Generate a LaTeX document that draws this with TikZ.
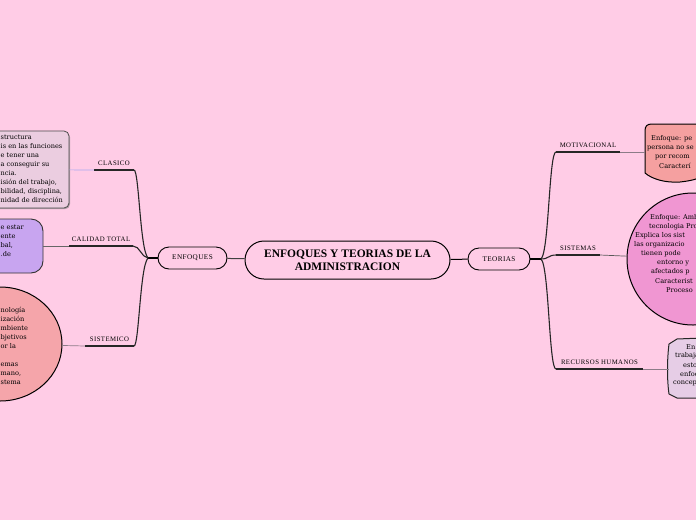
\documentclass[tikz,border=0pt]{standalone}
\usepackage{fontspec}
\setmainfont{Liberation Serif}
\newfontfamily\etiqfont[LetterSpace=6]{Liberation Serif}
\newfontfamily\cajafont{DejaVu Serif}
\usetikzlibrary{shapes.geometric,shadows}
\definecolor{fondo}{HTML}{FFCCE6}
\definecolor{cajaclas}{HTML}{EBCDE0}
\definecolor{cajacal}{HTML}{C8A5F0}
\definecolor{cajasist}{HTML}{F5A5AA}
\definecolor{cajamot}{HTML}{F5A0A0}
\definecolor{cajasis}{HTML}{F096D2}
\definecolor{cajarh}{HTML}{E6CDE6}
\definecolor{lila}{HTML}{A8A8F0}
\definecolor{gris}{HTML}{8C7C88}

\begin{document}
\begin{tikzpicture}[x=1pt,y=-1pt,
  rama/.style={line width=1.1pt, draw=black!85},
  raya/.style={line width=1.8pt, draw=black!85},
  enlace/.style={line width=0.7pt, draw=gris},
  etiq/.style={font=\etiqfont\fontsize{6.8}{7}\selectfont, anchor=south, inner sep=0pt, yshift=4pt},
  frag/.style={font=\cajafont\fontsize{6.6}{9}\selectfont, anchor=west, inner sep=0pt},
  tema/.style={draw, line width=0.9pt, rounded corners=11pt, fill=fondo,
    font=\etiqfont\fontsize{7.2}{8}\selectfont, minimum height=22pt, inner sep=0pt}]
        \newcommand{\juntaL}{148}
        \newcommand{\juntaR}{541}

        % fondo y marco
        \clip (0,0) rectangle (696,520);
        \fill[fondo] (0,0) rectangle (696,520);

        % nodo central y temas
        \node[draw, line width=1pt, rounded corners=19pt, fill=fondo, minimum width=205pt,
          minimum height=38pt, align=center, font=\fontsize{11.5}{13}\selectfont\bfseries]
          (centro) at (347.5,260) {ENFOQUES Y TEORIAS DE LA\\ADMINISTRACION};
        \node[tema, minimum width=69pt] (enfoques) at (192.5,258) {ENFOQUES};
        \node[tema, minimum width=62pt] (teorias) at (499,259) {TEORIAS};

        \draw[line width=1pt, draw=black!75] (enfoques) -- (centro);
        \draw[line width=1pt] (centro) -- (teorias);

        \coordinate (enfJ) at (\juntaL,258);
        \coordinate (teoJ) at (\juntaR,259);
        \draw[line width=2pt] (enfoques.west) -- (enfJ);
        \draw[line width=2pt] (teorias.east) -- (teoJ);

        % ramas izquierdas
        \coordinate (clasR) at (134,170);
        \coordinate (clasL) at (94,170);
        \coordinate (calR) at (133,246);
        \coordinate (calL) at (69,246);
        \coordinate (sistR) at (134,346);
        \coordinate (sistL) at (85,346);

        \draw[rama] (enfJ) .. controls (140,250) and (139,170) .. (clasR);
        \draw[rama] (enfJ) .. controls (141,257) and (140,246) .. (calR);
        \draw[rama] (enfJ) .. controls (140,266) and (139,346) .. (sistR);

        \draw[raya] (clasR) -- node[etiq] (clasicoT) {CLASICO} (clasL);
        \draw[raya] (calR) -- node[etiq] (calidadT) {CALIDAD TOTAL} (calL);
        \draw[raya] (sistR) -- node[etiq] (sistemicoT) {SISTEMICO} (sistL);

        % ramas derechas
        \coordinate (motR) at (556,152);
        \coordinate (motL) at (620,152);
        \coordinate (sisR) at (556,255);
        \coordinate (sisL) at (600,255);
        \coordinate (rhR) at (556,369);
        \coordinate (rhL) at (643,369);

        \draw[rama] (teoJ) .. controls (549,252) and (549,152) .. (motR);
        \draw[rama] (teoJ) .. controls (549,259) and (548,255) .. (sisR);
        \draw[rama] (teoJ) .. controls (549,266) and (549,369) .. (rhR);

        \draw[raya] (motR) -- node[etiq] (motivT) {MOTIVACIONAL} (motL);
        \draw[raya] (sisR) -- node[etiq] (sistemasT) {SISTEMAS} (sisL);
        \draw[raya] (rhR) -- node[etiq] (rrhhT) {RECURSOS HUMANOS} (rhL);

        % cajas izquierdas
        \node[draw=black!70, line width=0.8pt, fill=cajaclas, rounded corners=5pt,
          minimum width=140pt, minimum height=77pt,
          drop shadow={shadow xshift=1pt, shadow yshift=-1.2pt, opacity=0.6}]
          (clasbox) at (-1,169.5) {};
        \node[draw=black!80, line width=0.9pt, fill=cajacal, rounded corners=12pt,
          minimum width=100pt, minimum height=54pt] (calbox) at (-7,246) {};
        \node[ellipse, draw, line width=1pt, fill=cajasist, minimum width=124pt,
          minimum height=114pt] (sisbox) at (0,344) {};

        \draw[enlace, draw=lila] (clasL) -- (clasbox);
        \draw[enlace, draw=black!60] (calL) -- (calbox);
        \draw[enlace] (sistL) -- (sisbox);

        \node[frag, align=left] (clastxt) at (0.5,168.5) {structura\\is en las funciones\\e tener una\\a conseguir su\\ncia.\\isión del trabajo,\\bilidad, disciplina,\\nidad de dirección};
        \node[frag, align=left] (caltxt) at (0.5,240.5) {e estar\\ente\\bal,\\.de};
        \node[frag, align=left] (sistxt) at (0.5,346) {nología\\ización\\mbiente\\bjetivos\\or la\\[9pt]emas\\mano,\\stema};

        % cajas derechas
        \draw[line width=1pt, fill=cajamot] (702,124) -- (652,124) .. controls (647,124) and (645,126) .. (645,131)
          -- (645,173) .. controls (652,179) and (665,183) .. (680,182) .. controls (690,181) and (697,179) .. (702,177) -- cycle;
        \coordinate (motbox) at (645,152);
        \node[circle, draw, line width=1pt, fill=cajasis, minimum size=132pt] (sistemasbox) at (693,259) {};
        \draw[line width=1pt, draw=black!85, fill=cajarh] (702,338) -- (677,339) -- (669,344)
          .. controls (667,360) and (667,380) .. (669,394) -- (677,398) -- (702,398) -- cycle;
        \coordinate (rhbox) at (668.5,369);

        \draw[enlace] (motL) -- (motbox);
        \draw[enlace, draw=black!65] (sisL) -- (sistemasbox);
        \draw[enlace] (rhL) -- (rhbox);

        % textos derechos
        \node[frag] (mot1) at (651,139) {Enfoque: pe};
        \node[frag] (mot2) at (647,148) {persona no se};
        \node[frag] (mot3) at (655,157) {por recom};
        \node[frag] (mot4) at (659,166) {Caracterí};

        \node[frag] (sis1) at (650,218) {Enfoque: Amb};
        \node[frag] (sis2) at (649,227) {tecnologia Pro};
        \node[frag] (sis3) at (635,236) {Explica los sist};
        \node[frag] (sis4) at (634,245) {las organizacio};
        \node[frag] (sis5) at (641,254) {tienen pode};
        \node[frag] (sis6) at (657,263) {entorno y};
        \node[frag] (sis7) at (651,272) {afectados p};
        \node[frag] (sis8) at (655,281) {Caracterist};
        \node[frag] (sis9) at (666,290) {Proceso};

        \node[frag] (rh1) at (686,347) {En};
        \node[frag] (rh2) at (675,356) {trabaja};
        \node[frag] (rh3) at (683,365) {esto};
        \node[frag] (rh4) at (680,374) {enfoc};
        \node[frag] (rh5) at (673,383) {concep};
    \end{tikzpicture}
\end{document}
